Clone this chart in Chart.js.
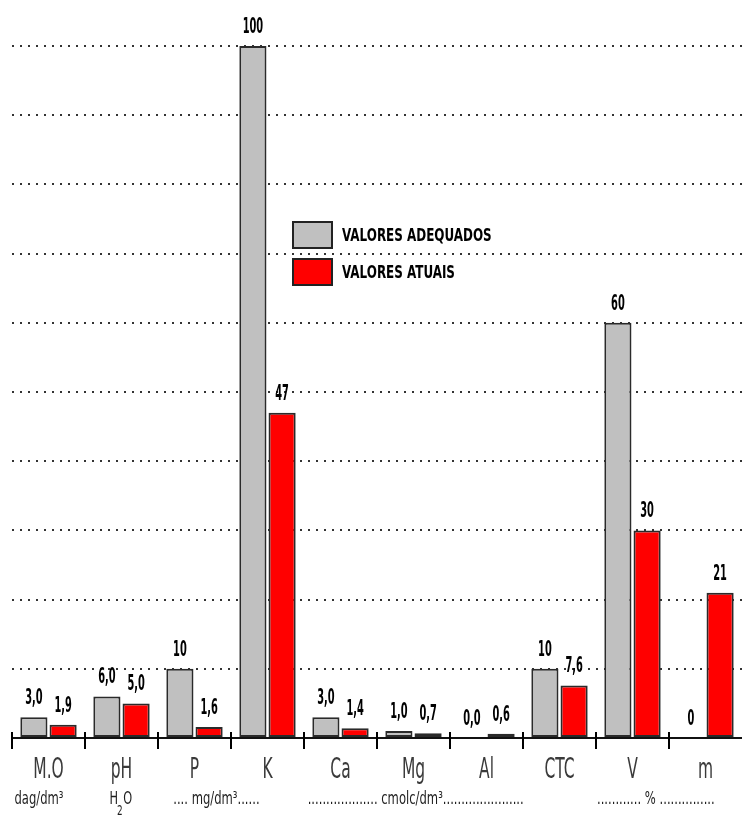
<!DOCTYPE html>
<html>
<head>
<meta charset="utf-8">
<title>Análise de solo</title>
<script src="https://cdn.jsdelivr.net/npm/chart.js@4.4.1/dist/chart.umd.min.js"></script>
<style>
  html, body { margin: 0; padding: 0; background: #ffffff; }
  canvas { display: block; }
</style>
</head>
<body>
<canvas id="soil" width="742" height="822"></canvas>
<script>
// Soil attributes along the x axis
const categories = ['M.O', 'pH', 'P', 'K', 'Ca', 'Mg', 'Al', 'CTC', 'V', 'm'];

// Recommended (adequate) values and the values measured in the sample
const adequateValues = [3.0, 6.0, 10, 100, 3.0, 1.0, 0.0, 10, 60, 0];
const currentValues  = [1.9, 5.0, 1.6, 47, 1.4, 0.7, 0.6, 7.6, 30, 21];

// Value captions printed above each bar (decimal comma)
const adequateLabels = ['3,0', '6,0', '10', '100', '3,0', '1,0', '0,0', '10', '60', '0'];
const currentLabels  = ['1,9', '5,0', '1,6', '47', '1,4', '0,7', '0,6', '7,6', '30', '21'];

// Series names
const seriesNames = ['VALORES ADEQUADOS', 'VALORES ATUAIS'];

// Unit captions under the category names
const unitLabels = ['dag/dm³', 'H2O', '.... mg/dm³......',
  '................... cmolc/dm³......................',
  '............ % ...............'];

const NARROW = '"Liberation Sans Narrow", "DejaVu Sans Condensed", "Arial Narrow", sans-serif';

// draws text squeezed horizontally by sx and stretched vertically by sy
function stretchedText(ctx, text, x, y, font, sx, sy, align) {
  ctx.save();
  ctx.font = font;
  ctx.textAlign = align || 'center';
  ctx.textBaseline = 'alphabetic';
  ctx.translate(x, y);
  ctx.scale(sx, sy);
  ctx.fillText(text, 0, 0);
  ctx.restore();
}

const whiteBackground = {
  id: 'whiteBackground',
  beforeDraw(chart) {
    const ctx = chart.ctx;
    ctx.save();
    ctx.fillStyle = '#ffffff';
    ctx.fillRect(0, 0, chart.width, chart.height);
    ctx.restore();
  }
};

const soilDecorations = {
  id: 'soilDecorations',
  afterDatasetsDraw(chart) {
    const ctx = chart.ctx;
    const xs = chart.scales.x;
    const area = chart.chartArea;
    const n = categories.length;
    const step = (area.right - area.left) / n;

    // value captions above the bars
    ctx.fillStyle = '#000000';
    const captionSets = [adequateLabels, currentLabels];
    chart.data.datasets.forEach((ds, di) => {
      chart.getDatasetMeta(di).data.forEach((bar, i) => {
        stretchedText(ctx, captionSets[di][i], bar.x, bar.y - 13,
          'bold 14px ' + NARROW, 0.78, 1.55, 'center');
      });
    });

    // category separators crossing the baseline
    ctx.save();
    ctx.strokeStyle = '#000000';
    ctx.lineWidth = 2;
    for (let i = 0; i < n; i++) {
      const x = Math.round(area.left + i * step);
      ctx.beginPath();
      ctx.moveTo(x, area.bottom - 6);
      ctx.lineTo(x, area.bottom + 11);
      ctx.stroke();
    }
    ctx.restore();

    // category names
    ctx.fillStyle = '#3a3a3a';
    categories.forEach((c, i) => {
      stretchedText(ctx, c, xs.getPixelForValue(i), area.bottom + 40,
        '20px ' + NARROW, 0.86, 1.45, 'center');
    });

    // units row
    ctx.fillStyle = '#1e1e1e';
    const unitFont = '14px ' + NARROW;
    const uy = area.bottom + 66;
    stretchedText(ctx, unitLabels[0], xs.getPixelForValue(-0.13), uy, unitFont, 0.92, 1.2, 'center');
    // H2O with a lowered subscript
    const hx = xs.getPixelForValue(0.99);
    stretchedText(ctx, 'H', hx - 7, uy, unitFont, 0.9, 1.2, 'center');
    stretchedText(ctx, '2', hx - 1, uy + 11, '11px ' + NARROW, 0.9, 1.2, 'center');
    stretchedText(ctx, 'O', hx + 7, uy, unitFont, 0.9, 1.2, 'center');
    stretchedText(ctx, unitLabels[2], xs.getPixelForValue(2.30), uy, unitFont, 0.92, 1.2, 'center');
    stretchedText(ctx, unitLabels[3], xs.getPixelForValue(5.03), uy, unitFont, 0.92, 1.2, 'center');
    stretchedText(ctx, unitLabels[4], xs.getPixelForValue(8.32), uy, unitFont, 0.92, 1.2, 'center');

    // legend
    const colors = chart.data.datasets.map(d => d.backgroundColor);
    const lx = 293, ly = [222, 259];
    seriesNames.forEach((name, i) => {
      ctx.save();
      ctx.fillStyle = colors[i];
      ctx.fillRect(lx, ly[i], 39, 26);
      ctx.strokeStyle = '#222222';
      ctx.lineWidth = 2;
      ctx.strokeRect(lx, ly[i], 39, 26);
      ctx.restore();
      ctx.fillStyle = '#000000';
      stretchedText(ctx, name, lx + 49, ly[i] + 19, 'bold 16px ' + NARROW, 0.83, 1.15, 'left');
    });
  }
};

new Chart(document.getElementById('soil'), {
  type: 'bar',
  data: {
    labels: categories,
    datasets: [
      {
        label: seriesNames[0],
        data: adequateValues,
        backgroundColor: '#c0c0c0',
        borderColor: '#2a2a2a',
        borderWidth: 2,
        borderSkipped: false
      },
      {
        label: seriesNames[1],
        data: currentValues,
        backgroundColor: '#ff0000',
        borderColor: '#2a2a2a',
        borderWidth: 2,
        borderSkipped: false
      }
    ]
  },
  options: {
    responsive: false,
    animation: false,
    devicePixelRatio: 1,
    categoryPercentage: 0.8,
    barPercentage: 0.93,
    layout: { padding: { top: 46, left: 12, right: 0, bottom: 84 } },
    plugins: {
      legend: { display: false },
      tooltip: { enabled: false }
    },
    scales: {
      x: {
        grid: { display: false, drawTicks: false },
        border: { display: true, color: '#111111', width: 2 },
        ticks: { display: false }
      },
      y: {
        min: 0,
        max: 100,
        ticks: { display: false, stepSize: 10 },
        grid: { color: '#333333', lineWidth: 2, drawTicks: false },
        border: { display: false, dash: [2, 6] }
      }
    }
  },
  plugins: [whiteBackground, soilDecorations]
});
</script>
</body>
</html>
